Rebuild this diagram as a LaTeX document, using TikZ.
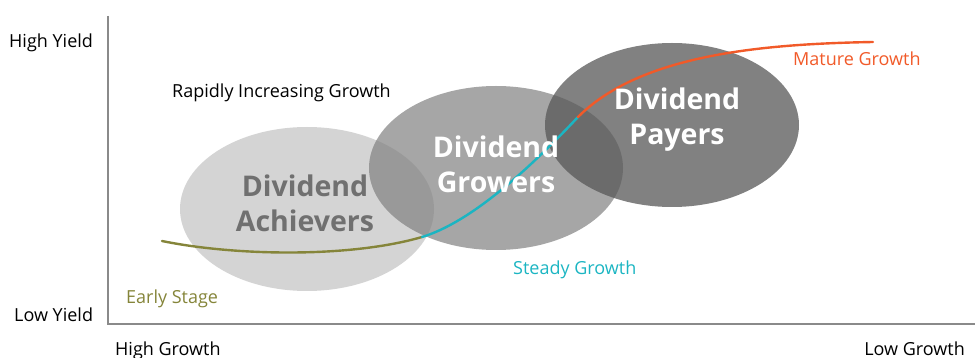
\documentclass[tikz,border=0pt]{standalone}
\usepackage{fontspec}
\setmainfont{Open Sans}
\usetikzlibrary{shapes.geometric}
\definecolor{olivec}{HTML}{85853A}
\definecolor{tealc}{HTML}{1BB5C2}
\definecolor{orangec}{HTML}{F15A29}
\definecolor{axisc}{HTML}{8A8A8A}
\tikzset{
  blob/.style={ellipse, inner sep=0pt, minimum width=254pt, minimum height=164pt},
  big/.style={font=\fontsize{28.5}{35}\selectfont\bfseries, align=center, inner sep=0pt},
  lbl/.style={font=\fontsize{18}{21}\selectfont, inner sep=0pt},
  curve/.style={line width=2.4pt, line cap=round},
}
\begin{document}
\begin{tikzpicture}[x=1pt,y=-1pt]
\useasboundingbox (0,0) rectangle (975,358);
% axes
\coordinate (top) at (108,16);
\coordinate (orig) at (108,324);
\coordinate (xend) at (975,324);
\draw[axisc, line width=1.5pt] (top) -- (orig) -- (xend);
% ellipses
\node[blob, fill={rgb,255:red,212;green,212;blue,212}] (ach) at (307,209) {};
\node[blob, fill={rgb,255:red,128;green,128;blue,128}, fill opacity=0.7] (gro) at (496,168) {};
\node[blob, fill={rgb,255:red,89;green,89;blue,89}, fill opacity=0.76] (pay) at (672,125) {};
% curves
\coordinate (c0) at (162,241);
\coordinate (c1) at (422,237);
\coordinate (c2) at (578,117);
\coordinate (c3) at (873,42);
\draw[curve, olivec] (c0) .. controls (235,256) and (350,258) .. (c1);
\draw[curve, tealc] (c1) .. controls (472,222) and (532,166) .. (c2);
\draw[curve, orangec] (c2) .. controls (640,55) and (760,44) .. (c3);
% big labels
\node[big, text={rgb,255:red,112;green,112;blue,112}] (tach) at (305,203) {Dividend\\Achievers};
\node[big, text=white] (tgro) at (496,164) {Dividend\\Growers};
\node[big, text=white] (tpay) at (677,120) {Dividend\\Payers};
% small labels
\node[lbl, anchor=base west] (hy) at (9,48) {High Yield};
\node[lbl, anchor=base west] (ly) at (14,321) {Low Yield};
\node[lbl, anchor=base west] (hg) at (115,355) {High Growth};
\node[lbl, anchor=base east] (lg) at (965,355) {Low Growth};
\node[lbl, anchor=base west] (rig) at (172,98) {Rapidly Increasing Growth};
\node[lbl, anchor=base west, text=olivec] (es) at (126,304) {Early Stage};
\node[lbl, anchor=base west, text=tealc] (sg) at (513,275) {Steady Growth};
\node[lbl, anchor=base west, text=orangec] (mg) at (793,66) {Mature Growth};
\end{tikzpicture}
\end{document}
